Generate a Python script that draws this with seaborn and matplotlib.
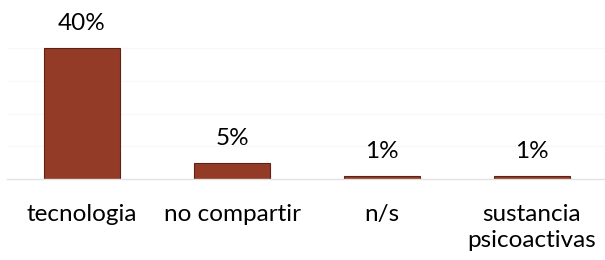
import pandas as pd
import matplotlib
matplotlib.use("Agg")
import matplotlib.pyplot as plt
import seaborn as sns

# Chart data
categories = ["tecnologia", "no compartir", "n/s", "sustancia\npsicoactivas"]
values = [40, 5, 1, 1]
labels = ["40%", "5%", "1%", "1%"]

df = pd.DataFrame({"categoria": categories, "valor": values})

sns.set_theme(style="white")
plt.rcParams["font.family"] = ["Lato", "DejaVu Sans"]

fig = plt.figure(figsize=(6.05, 2.6), dpi=100)
ax = fig.add_axes([7 / 605, 81 / 260, 600 / 605, 147 / 260])

sns.barplot(data=df, x="categoria", y="valor", color="#943B28", saturation=1,
            width=0.51, edgecolor="#5e2215", linewidth=0.8, ax=ax)

ax.set_ylim(0, 45)
ax.set_yticks([10, 20, 30, 40])
ax.yaxis.grid(True, color="#f8f8f8", linewidth=0.8)
ax.set_axisbelow(True)
ax.tick_params(axis="y", left=False, labelleft=False)
ax.tick_params(axis="x", bottom=False, labelsize=17.5, colors="black", pad=12)
for lab in ax.get_xticklabels():
    lab.set_verticalalignment("top")
    lab.set_linespacing(1.3)
ax.set_xlabel("")
ax.set_ylabel("")
for side in ["top", "left", "right"]:
    ax.spines[side].set_visible(False)
ax.spines["bottom"].set_color("#e2e2e2")
ax.spines["bottom"].set_linewidth(1)

# Value labels above bars
for i, (v, t) in enumerate(zip(values, labels)):
    ax.annotate(t, (i, v), xytext=(0, 13), textcoords="offset points",
                ha="center", va="baseline", fontsize=17.5, color="black")

fig.savefig("out.png", dpi=100)
